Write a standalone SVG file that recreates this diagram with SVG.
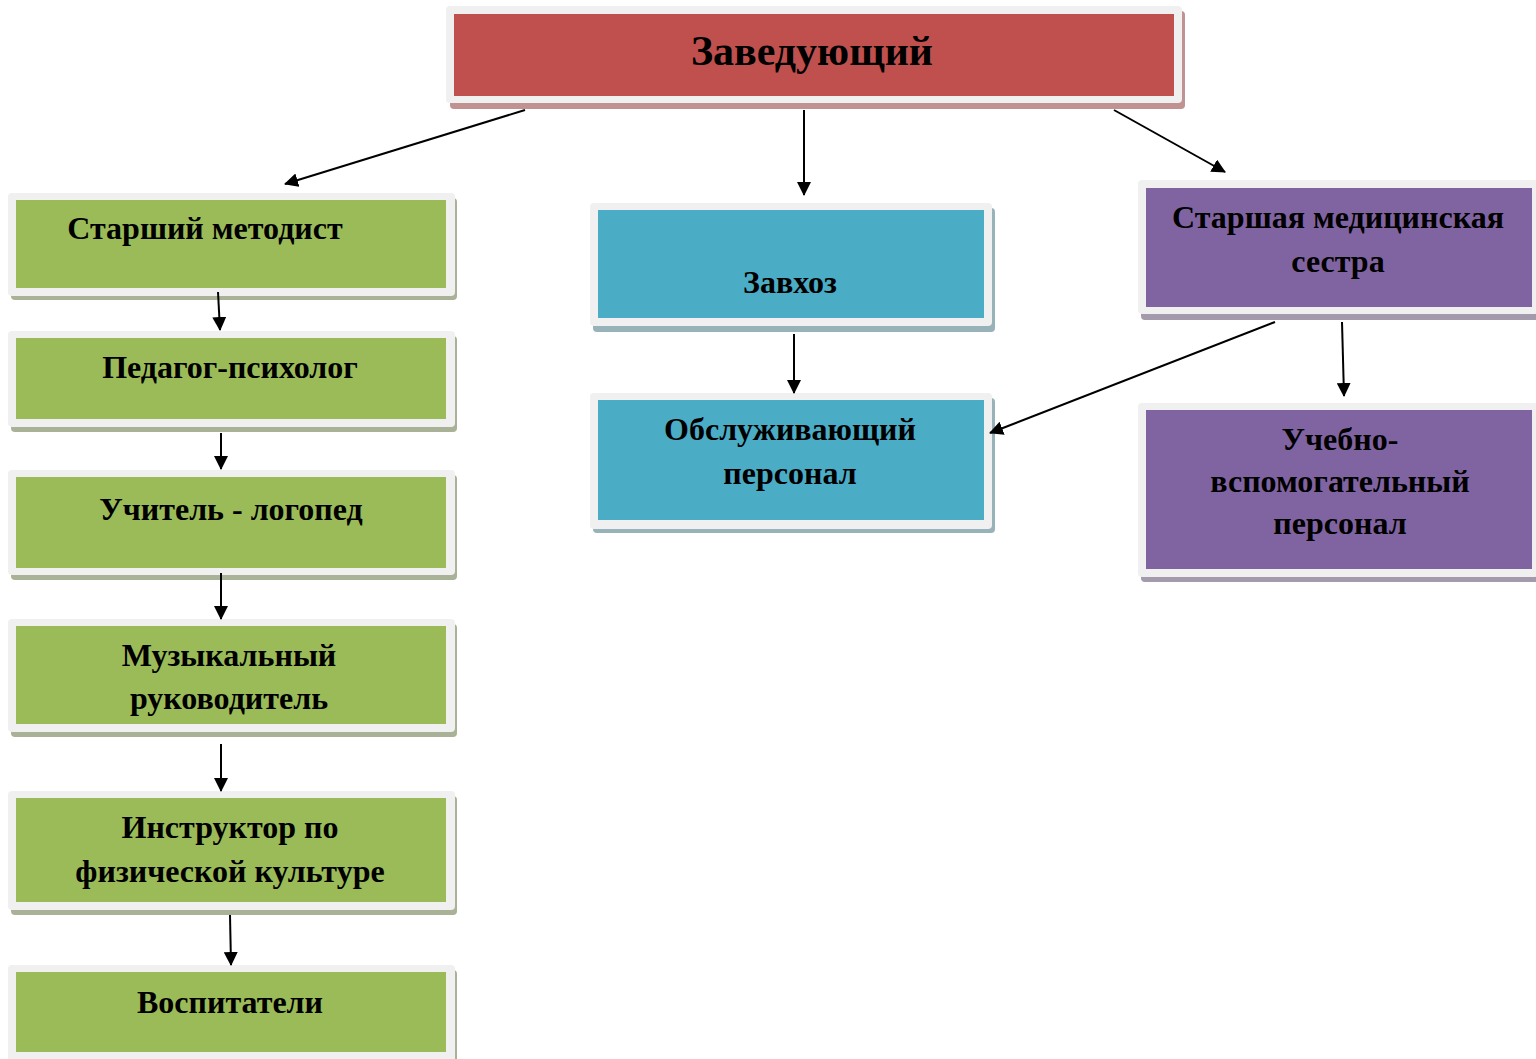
<svg xmlns="http://www.w3.org/2000/svg" width="1536" height="1059" viewBox="0 0 1536 1059">
<defs>
<marker id="ah" viewBox="0 0 14 14" refX="13" refY="7" markerWidth="14" markerHeight="14" markerUnits="userSpaceOnUse" orient="auto">
<path d="M0,0 L14,7 L0,14 z" fill="#000"/>
</marker>
<style>
.frame{fill:#f0f0f0}
.t{font-family:"Liberation Serif","Times New Roman",serif;font-weight:bold;font-size:32px;fill:#000;text-anchor:middle}
.big{font-size:42px}
.red{fill:#c0504d}.redS{fill:#c09292}
.green{fill:#9bbb59}.greenS{fill:#a9b196}
.blue{fill:#4bacc6}.blueS{fill:#98b2ba}
.purple{fill:#8064a2}.purpleS{fill:#a39aab}
.c{stroke:#000;stroke-width:2;fill:none;marker-end:url(#ah)}
</style>
</defs>
<rect width="1536" height="1059" fill="#fff"/>

<g id="zaveduyushchiy">
<rect class="redS" x="450" y="11" width="735" height="98" rx="4"/>
<rect class="frame" x="446" y="6" width="736" height="97" rx="4"/>
<rect class="red" x="454" y="14" width="720" height="82"/>
<text class="t big" x="812" y="65">Заведующий</text>
</g>

<g id="starshiy-metodist">
<rect class="greenS" x="11" y="198" width="446" height="102" rx="4"/>
<rect class="frame" x="8" y="193" width="447" height="103" rx="4"/>
<rect class="green" x="16" y="200" width="430" height="88"/>
<text class="t" x="205" y="239">Старший методист</text>
</g>

<g id="pedagog-psikholog">
<rect class="greenS" x="11" y="336" width="446" height="96" rx="4"/>
<rect class="frame" x="8" y="331" width="447" height="96" rx="4"/>
<rect class="green" x="16" y="338" width="430" height="81"/>
<text class="t" x="230" y="378">Педагог-психолог</text>
</g>

<g id="uchitel-logoped">
<rect class="greenS" x="11" y="475" width="446" height="105" rx="4"/>
<rect class="frame" x="8" y="470" width="447" height="105" rx="4"/>
<rect class="green" x="16" y="477" width="430" height="91"/>
<text class="t" x="231" y="520">Учитель - логопед</text>
</g>

<g id="muzykalnyy-rukovoditel">
<rect class="greenS" x="11" y="624" width="446" height="113" rx="4"/>
<rect class="frame" x="8" y="619" width="447" height="113" rx="4"/>
<rect class="green" x="16" y="626" width="430" height="98"/>
<text class="t" x="229" y="666">Музыкальный</text>
<text class="t" x="229" y="709">руководитель</text>
</g>

<g id="instruktor">
<rect class="greenS" x="11" y="796" width="446" height="119" rx="4"/>
<rect class="frame" x="8" y="791" width="447" height="119" rx="4"/>
<rect class="green" x="16" y="798" width="430" height="104"/>
<text class="t" x="230" y="838">Инструктор по</text>
<text class="t" x="230" y="882">физической культуре</text>
</g>

<g id="vospitateli">
<rect class="greenS" x="11" y="970" width="446" height="100" rx="4"/>
<rect class="frame" x="8" y="965" width="447" height="100" rx="4"/>
<rect class="green" x="16" y="972" width="430" height="80"/>
<text class="t" x="230" y="1013">Воспитатели</text>
</g>

<g id="zavkhoz">
<rect class="blueS" x="593" y="208" width="402" height="124" rx="4"/>
<rect class="frame" x="590" y="203" width="402" height="123" rx="4"/>
<rect class="blue" x="598" y="210" width="386" height="108"/>
<text class="t" x="790" y="293">Завхоз</text>
</g>

<g id="obsluzhivayushchiy">
<rect class="blueS" x="593" y="398" width="402" height="135" rx="4"/>
<rect class="frame" x="590" y="393" width="402" height="136" rx="4"/>
<rect class="blue" x="598" y="400" width="386" height="120"/>
<text class="t" x="790" y="440">Обслуживающий</text>
<text class="t" x="790" y="484">персонал</text>
</g>

<g id="medsestra">
<rect class="purpleS" x="1141" y="185" width="400" height="135" rx="4"/>
<rect class="frame" x="1138" y="180" width="400" height="134" rx="4"/>
<rect class="purple" x="1146" y="188" width="386" height="119"/>
<text class="t" x="1338" y="228">Старшая медицинская</text>
<text class="t" x="1338" y="272">сестра</text>
</g>

<g id="uchebno-vspomogatelnyy">
<rect class="purpleS" x="1141" y="408" width="400" height="174" rx="4"/>
<rect class="frame" x="1138" y="403" width="400" height="174" rx="4"/>
<rect class="purple" x="1146" y="410" width="386" height="159"/>
<text class="t" x="1340" y="450">Учебно-</text>
<text class="t" x="1340" y="492">вспомогательный</text>
<text class="t" x="1340" y="534">персонал</text>
</g>

<g id="connectors">
<line class="c" x1="525" y1="110" x2="285" y2="184"/>
<line class="c" x1="804" y1="110" x2="804" y2="195"/>
<line class="c" x1="1114" y1="110" x2="1225" y2="172"/>
<line class="c" x1="218" y1="292" x2="220" y2="330"/>
<line class="c" x1="221" y1="433" x2="221" y2="469"/>
<line class="c" x1="221" y1="573" x2="221" y2="619"/>
<line class="c" x1="221" y1="744" x2="221" y2="791"/>
<line class="c" x1="230" y1="915" x2="231" y2="965"/>
<line class="c" x1="794" y1="334" x2="794" y2="393"/>
<line class="c" x1="1275" y1="322" x2="990" y2="433"/>
<line class="c" x1="1342" y1="322" x2="1344" y2="396"/>
</g>
</svg>
